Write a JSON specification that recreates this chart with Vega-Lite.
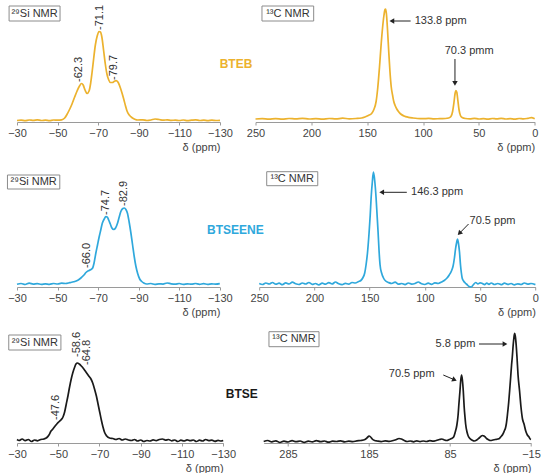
{
"$schema":"https://vega.github.io/schema/vega-lite/v6.json",
"padding":{"left":6,"top":0,"right":0,"bottom":0},
"spacing":6,
"config":{"font":"Liberation Sans","view":{"stroke":"transparent"},
"axis":{"domainColor":"#9a9a9a","tickColor":"#9a9a9a","tickSize":3,"labelFontSize":11,"labelColor":"#444","labelFlush":false,"labelOverlap":false,"grid":false,"titleFontSize":11,"titleFontWeight":"normal","titleColor":"#444","titleAnchor":"start","titleAlign":"right","titlePadding":3}},
"datasets":{
"si1":[{"ppm":-30,"i":0.5},{"ppm":-32,"i":0.8},{"ppm":-34,"i":0.3},{"ppm":-36,"i":1.0},{"ppm":-38,"i":0.6},{"ppm":-40,"i":1.2},{"ppm":-42,"i":0.5},{"ppm":-44,"i":0.9},{"ppm":-46,"i":0.4},{"ppm":-48,"i":1.0},{"ppm":-50,"i":0.8},{"ppm":-52,"i":1.2},{"ppm":-53.5,"i":3},{"ppm":-54.6,"i":6.5},{"ppm":-56,"i":12},{"ppm":-57.1,"i":17},{"ppm":-58.4,"i":24},{"ppm":-59.6,"i":30},{"ppm":-60.8,"i":35},{"ppm":-61.8,"i":37.5},{"ppm":-62.6,"i":36},{"ppm":-63.5,"i":31},{"ppm":-64.5,"i":27.5},{"ppm":-65.5,"i":30},{"ppm":-66.3,"i":38},{"ppm":-67,"i":49},{"ppm":-67.8,"i":63},{"ppm":-68.6,"i":76},{"ppm":-69.5,"i":85},{"ppm":-70.4,"i":89.5},{"ppm":-71.1,"i":89},{"ppm":-71.8,"i":84},{"ppm":-72.7,"i":70},{"ppm":-73.5,"i":57},{"ppm":-74.3,"i":47},{"ppm":-75.2,"i":41},{"ppm":-76,"i":38.5},{"ppm":-77,"i":38.5},{"ppm":-78,"i":39.8},{"ppm":-78.8,"i":40.3},{"ppm":-79.7,"i":39},{"ppm":-80.9,"i":33.3},{"ppm":-81.8,"i":27.5},{"ppm":-82.6,"i":21.7},{"ppm":-83.4,"i":15.5},{"ppm":-84.2,"i":10},{"ppm":-85.3,"i":6},{"ppm":-86.7,"i":3.3},{"ppm":-88,"i":1.8},{"ppm":-89.5,"i":1.0},{"ppm":-92,"i":1.1},{"ppm":-94,"i":0.5},{"ppm":-96,"i":1.0},{"ppm":-98,"i":2.0},{"ppm":-100,"i":1.5},{"ppm":-102,"i":0.8},{"ppm":-104,"i":1.2},{"ppm":-106,"i":0.6},{"ppm":-108,"i":0.9},{"ppm":-110,"i":0.5},{"ppm":-112,"i":1.0},{"ppm":-114,"i":0.4},{"ppm":-116,"i":0.8},{"ppm":-118,"i":1.1},{"ppm":-120,"i":0.5},{"ppm":-122,"i":0.9},{"ppm":-124,"i":0.3},{"ppm":-126,"i":0.8},{"ppm":-128,"i":0.5},{"ppm":-130,"i":0.7}],
"c1":[{"ppm":250,"i":0.5},{"ppm":244,"i":0.8},{"ppm":238,"i":0.3},{"ppm":232,"i":0.9},{"ppm":226,"i":0.4},{"ppm":220,"i":1.0},{"ppm":214,"i":0.6},{"ppm":208,"i":1.2},{"ppm":202,"i":0.5},{"ppm":196,"i":0.9},{"ppm":190,"i":0.3},{"ppm":184,"i":1.0},{"ppm":178,"i":0.6},{"ppm":172,"i":1.3},{"ppm":166,"i":0.7},{"ppm":160,"i":1.0},{"ppm":155,"i":1.5},{"ppm":152,"i":2.5},{"ppm":149,"i":4},{"ppm":146,"i":6},{"ppm":144,"i":10},{"ppm":142,"i":18},{"ppm":140.5,"i":32},{"ppm":139,"i":52},{"ppm":137.5,"i":75},{"ppm":136.2,"i":92},{"ppm":135,"i":104},{"ppm":134,"i":110},{"ppm":133.5,"i":110.5},{"ppm":132.8,"i":106},{"ppm":131.8,"i":90},{"ppm":130.7,"i":68},{"ppm":129.6,"i":48},{"ppm":128.5,"i":33},{"ppm":127.2,"i":24},{"ppm":126.3,"i":18.5},{"ppm":125,"i":14},{"ppm":123.5,"i":10.5},{"ppm":122,"i":8},{"ppm":120,"i":5.5},{"ppm":117,"i":3.5},{"ppm":113,"i":2.2},{"ppm":109,"i":1.5},{"ppm":105,"i":1.0},{"ppm":100,"i":0.8},{"ppm":95,"i":1.1},{"ppm":90,"i":0.6},{"ppm":85,"i":0.9},{"ppm":80,"i":1.0},{"ppm":77,"i":1.5},{"ppm":75,"i":3},{"ppm":73.5,"i":8},{"ppm":72.3,"i":17},{"ppm":71.3,"i":26},{"ppm":70.5,"i":29},{"ppm":69.7,"i":27},{"ppm":68.8,"i":19},{"ppm":67.8,"i":10},{"ppm":66.5,"i":4},{"ppm":65,"i":2},{"ppm":62,"i":1},{"ppm":58,"i":0.7},{"ppm":54,"i":1.1},{"ppm":50,"i":0.5},{"ppm":46,"i":0.9},{"ppm":42,"i":0.4},{"ppm":38,"i":1.0},{"ppm":34,"i":0.6},{"ppm":30,"i":1.2},{"ppm":26,"i":0.5},{"ppm":22,"i":0.9},{"ppm":18,"i":0.4},{"ppm":14,"i":1.0},{"ppm":10,"i":0.6},{"ppm":6,"i":1.2},{"ppm":3,"i":1.8},{"ppm":0,"i":0.8}],
"si2":[{"ppm":-30,"i":0.8},{"ppm":-32,"i":1.5},{"ppm":-34,"i":0.5},{"ppm":-36,"i":1.8},{"ppm":-38,"i":0.9},{"ppm":-40,"i":1.4},{"ppm":-42,"i":0.6},{"ppm":-44,"i":1.2},{"ppm":-46,"i":0.7},{"ppm":-48,"i":1.5},{"ppm":-50,"i":1.0},{"ppm":-52,"i":1.8},{"ppm":-54,"i":1.5},{"ppm":-56,"i":2.3},{"ppm":-58,"i":3.2},{"ppm":-60,"i":4.8},{"ppm":-61.5,"i":7},{"ppm":-63,"i":10},{"ppm":-64,"i":12.5},{"ppm":-65.5,"i":14.5},{"ppm":-66.5,"i":15.5},{"ppm":-67.3,"i":17},{"ppm":-68,"i":22},{"ppm":-68.8,"i":31},{"ppm":-69.7,"i":40},{"ppm":-70.5,"i":48},{"ppm":-71.3,"i":55},{"ppm":-72.1,"i":62},{"ppm":-73,"i":66},{"ppm":-73.8,"i":68.3},{"ppm":-74.5,"i":68},{"ppm":-75.2,"i":65},{"ppm":-76,"i":61},{"ppm":-76.8,"i":57},{"ppm":-77.7,"i":55.5},{"ppm":-78.6,"i":57},{"ppm":-79.6,"i":62},{"ppm":-80.4,"i":68},{"ppm":-81.2,"i":73.5},{"ppm":-82.2,"i":76.5},{"ppm":-82.9,"i":77},{"ppm":-83.7,"i":75.5},{"ppm":-84.5,"i":71.5},{"ppm":-85.3,"i":63},{"ppm":-86.2,"i":51.5},{"ppm":-87,"i":40},{"ppm":-87.8,"i":28.5},{"ppm":-88.6,"i":19},{"ppm":-89.5,"i":11.5},{"ppm":-90.5,"i":6},{"ppm":-91.5,"i":3.5},{"ppm":-92.5,"i":2},{"ppm":-94,"i":1},{"ppm":-96,"i":1.5},{"ppm":-98,"i":0.6},{"ppm":-100,"i":1.2},{"ppm":-102,"i":0.9},{"ppm":-104,"i":2.0},{"ppm":-106,"i":1.2},{"ppm":-108,"i":0.8},{"ppm":-110,"i":1.5},{"ppm":-112,"i":0.6},{"ppm":-114,"i":1.2},{"ppm":-116,"i":0.8},{"ppm":-118,"i":1.5},{"ppm":-120,"i":0.7},{"ppm":-122,"i":1.3},{"ppm":-124,"i":0.6},{"ppm":-126,"i":1.1},{"ppm":-128,"i":0.9},{"ppm":-130,"i":1.4}],
"c2":[{"ppm":250,"i":1.5},{"ppm":247,"i":0.5},{"ppm":244,"i":2.0},{"ppm":241,"i":1.0},{"ppm":238,"i":2.5},{"ppm":235,"i":0.8},{"ppm":232,"i":1.8},{"ppm":229,"i":0.3},{"ppm":226,"i":2.2},{"ppm":223,"i":1.0},{"ppm":220,"i":2.8},{"ppm":217,"i":1.2},{"ppm":214,"i":0.5},{"ppm":211,"i":2.0},{"ppm":208,"i":1.0},{"ppm":205,"i":2.5},{"ppm":202,"i":0.6},{"ppm":199,"i":1.5},{"ppm":196,"i":0.2},{"ppm":193,"i":1.8},{"ppm":190,"i":0.8},{"ppm":187,"i":2.4},{"ppm":184,"i":1.0},{"ppm":181,"i":3.0},{"ppm":178,"i":1.2},{"ppm":175,"i":0.4},{"ppm":172,"i":1.6},{"ppm":169,"i":0.8},{"ppm":166,"i":2.5},{"ppm":163,"i":2.0},{"ppm":160,"i":3.5},{"ppm":158,"i":4.5},{"ppm":156.3,"i":7},{"ppm":154.5,"i":12},{"ppm":153.3,"i":20},{"ppm":152,"i":32},{"ppm":150.5,"i":53},{"ppm":149.5,"i":70},{"ppm":148.7,"i":87},{"ppm":147.6,"i":103},{"ppm":146.6,"i":113},{"ppm":145.5,"i":105},{"ppm":144.2,"i":87},{"ppm":143.3,"i":70},{"ppm":142.4,"i":53},{"ppm":141.5,"i":34},{"ppm":140.6,"i":20},{"ppm":139.2,"i":12},{"ppm":137.5,"i":7},{"ppm":135.5,"i":4},{"ppm":133,"i":2.5},{"ppm":130,"i":1.5},{"ppm":127,"i":2.8},{"ppm":124,"i":0.8},{"ppm":121,"i":1.5},{"ppm":118,"i":0.4},{"ppm":115,"i":2.0},{"ppm":112,"i":0.9},{"ppm":109,"i":1.5},{"ppm":106,"i":3.0},{"ppm":103,"i":1.2},{"ppm":100,"i":0.5},{"ppm":97,"i":1.8},{"ppm":94,"i":0.6},{"ppm":91,"i":2.2},{"ppm":88,"i":1.5},{"ppm":85,"i":3.0},{"ppm":82.5,"i":4.5},{"ppm":80,"i":7},{"ppm":78,"i":10},{"ppm":76,"i":14},{"ppm":74.5,"i":19},{"ppm":73.3,"i":27},{"ppm":72.3,"i":36},{"ppm":71.2,"i":43},{"ppm":70.5,"i":46},{"ppm":69.7,"i":42},{"ppm":68.7,"i":33},{"ppm":67.8,"i":20},{"ppm":67,"i":12},{"ppm":66.3,"i":7},{"ppm":65,"i":4},{"ppm":63.5,"i":2},{"ppm":62,"i":0.5},{"ppm":60,"i":-1.5},{"ppm":58,"i":-2},{"ppm":56,"i":0.5},{"ppm":54,"i":2.5},{"ppm":52,"i":1.0},{"ppm":50,"i":2.2},{"ppm":48,"i":1.5},{"ppm":46,"i":0.4},{"ppm":44,"i":1.8},{"ppm":42,"i":0.7},{"ppm":40,"i":2.0},{"ppm":37,"i":0.5},{"ppm":34,"i":1.5},{"ppm":31,"i":0.3},{"ppm":28,"i":1.8},{"ppm":25,"i":0.6},{"ppm":22,"i":1.5},{"ppm":19,"i":0.2},{"ppm":16,"i":1.2},{"ppm":13,"i":0.5},{"ppm":10,"i":2.0},{"ppm":7,"i":0.8},{"ppm":4,"i":1.5},{"ppm":0,"i":0.4}],
"si3":[{"ppm":-30,"i":1.5},{"ppm":-31,"i":0.5},{"ppm":-32.5,"i":2.0},{"ppm":-34,"i":0.3},{"ppm":-35.5,"i":1.5},{"ppm":-37,"i":-0.5},{"ppm":-38.5,"i":1.0},{"ppm":-40,"i":0.2},{"ppm":-41.5,"i":1.5},{"ppm":-43,"i":2.0},{"ppm":-44.5,"i":3.5},{"ppm":-45.5,"i":6},{"ppm":-46.5,"i":10},{"ppm":-47.4,"i":12},{"ppm":-48.5,"i":15},{"ppm":-49.5,"i":17.5},{"ppm":-50.5,"i":19.5},{"ppm":-51.5,"i":21.5},{"ppm":-52.3,"i":24},{"ppm":-53.1,"i":29},{"ppm":-53.9,"i":37},{"ppm":-54.7,"i":45},{"ppm":-55.5,"i":54},{"ppm":-56.3,"i":62},{"ppm":-57.1,"i":68.5},{"ppm":-57.9,"i":73.5},{"ppm":-58.6,"i":77},{"ppm":-59.3,"i":78},{"ppm":-60.2,"i":77},{"ppm":-61.2,"i":75},{"ppm":-62.4,"i":72},{"ppm":-63.6,"i":68.5},{"ppm":-64.8,"i":65},{"ppm":-66,"i":61.5},{"ppm":-66.8,"i":57.5},{"ppm":-67.6,"i":52},{"ppm":-68.5,"i":45},{"ppm":-69.3,"i":37},{"ppm":-70.1,"i":29},{"ppm":-70.9,"i":21},{"ppm":-71.7,"i":14},{"ppm":-72.5,"i":8.5},{"ppm":-73.5,"i":5},{"ppm":-74.9,"i":3},{"ppm":-76.5,"i":2.5},{"ppm":-78,"i":1.5},{"ppm":-79.5,"i":2.5},{"ppm":-81,"i":1.0},{"ppm":-82.5,"i":2.0},{"ppm":-84,"i":1.0},{"ppm":-85.5,"i":0.5},{"ppm":-87,"i":1.5},{"ppm":-88.5,"i":0.0},{"ppm":-90,"i":1.0},{"ppm":-91.5,"i":-0.5},{"ppm":-93,"i":0.5},{"ppm":-94.5,"i":0.0},{"ppm":-96,"i":1.2},{"ppm":-97.5,"i":0.4},{"ppm":-99,"i":1.5},{"ppm":-100.5,"i":2.0},{"ppm":-102,"i":0.8},{"ppm":-103.5,"i":1.5},{"ppm":-105,"i":0.2},{"ppm":-106.5,"i":1.0},{"ppm":-108,"i":-0.5},{"ppm":-109.5,"i":0.8},{"ppm":-111,"i":0.0},{"ppm":-112.5,"i":1.2},{"ppm":-114,"i":0.3},{"ppm":-115.5,"i":1.0},{"ppm":-117,"i":-0.5},{"ppm":-118.5,"i":0.8},{"ppm":-120,"i":0.0},{"ppm":-121.5,"i":1.5},{"ppm":-123,"i":0.3},{"ppm":-124.5,"i":0.9},{"ppm":-126,"i":-0.3},{"ppm":-127.5,"i":0.6},{"ppm":-129,"i":0.0},{"ppm":-130,"i":0.5}],
"c3":[{"ppm":315,"i":0.5},{"ppm":310,"i":1.5},{"ppm":305,"i":0.2},{"ppm":300,"i":1.2},{"ppm":295,"i":-0.5},{"ppm":290,"i":0.8},{"ppm":285,"i":0.0},{"ppm":280,"i":1.3},{"ppm":275,"i":0.3},{"ppm":270,"i":1.0},{"ppm":265,"i":-0.3},{"ppm":260,"i":0.9},{"ppm":255,"i":0.2},{"ppm":250,"i":1.4},{"ppm":245,"i":0.4},{"ppm":240,"i":1.0},{"ppm":235,"i":-0.2},{"ppm":230,"i":0.8},{"ppm":225,"i":0.5},{"ppm":220,"i":1.2},{"ppm":215,"i":0.1},{"ppm":210,"i":0.9},{"ppm":205,"i":0.3},{"ppm":200,"i":1.1},{"ppm":195,"i":1.5},{"ppm":190,"i":2.5},{"ppm":187,"i":4.5},{"ppm":185,"i":6},{"ppm":183,"i":5},{"ppm":181,"i":3},{"ppm":178,"i":1.5},{"ppm":175,"i":1.0},{"ppm":170,"i":0.4},{"ppm":165,"i":1.2},{"ppm":160,"i":0.6},{"ppm":155,"i":1.5},{"ppm":151,"i":2.5},{"ppm":148,"i":3.5},{"ppm":145,"i":3},{"ppm":142,"i":1.8},{"ppm":138,"i":0.5},{"ppm":134,"i":1.0},{"ppm":130,"i":0.2},{"ppm":126,"i":1.2},{"ppm":122,"i":0.4},{"ppm":118,"i":1.0},{"ppm":114,"i":0.5},{"ppm":110,"i":1.3},{"ppm":106,"i":0.8},{"ppm":102,"i":1.5},{"ppm":98,"i":2.5},{"ppm":95,"i":3},{"ppm":92,"i":2},{"ppm":89,"i":1.5},{"ppm":86,"i":2.5},{"ppm":83,"i":3.5},{"ppm":80.5,"i":5},{"ppm":78.5,"i":10},{"ppm":76.5,"i":17},{"ppm":75,"i":27},{"ppm":74,"i":38},{"ppm":72.7,"i":51},{"ppm":71.7,"i":62},{"ppm":70.7,"i":67},{"ppm":69.7,"i":62},{"ppm":68.6,"i":51},{"ppm":67.5,"i":35},{"ppm":66.5,"i":25},{"ppm":65.7,"i":18},{"ppm":64,"i":10},{"ppm":62.5,"i":6},{"ppm":61,"i":4},{"ppm":59,"i":2.5},{"ppm":57,"i":1.5},{"ppm":55,"i":1.0},{"ppm":52,"i":2},{"ppm":49,"i":4},{"ppm":47,"i":5.5},{"ppm":45,"i":6.5},{"ppm":43,"i":6},{"ppm":41,"i":4.5},{"ppm":39,"i":3},{"ppm":37,"i":2},{"ppm":35,"i":1.5},{"ppm":32,"i":2},{"ppm":29,"i":2.5},{"ppm":26,"i":3},{"ppm":24,"i":3.5},{"ppm":22.5,"i":5},{"ppm":20,"i":7.5},{"ppm":18,"i":11},{"ppm":16.5,"i":14},{"ppm":15.5,"i":18},{"ppm":14,"i":28},{"ppm":12.5,"i":40},{"ppm":11.4,"i":51},{"ppm":10,"i":66},{"ppm":9,"i":77},{"ppm":8.1,"i":85},{"ppm":7,"i":97},{"ppm":6,"i":105},{"ppm":5.2,"i":108.7},{"ppm":4.4,"i":106},{"ppm":3.3,"i":97},{"ppm":2.3,"i":85},{"ppm":1,"i":67},{"ppm":-0.9,"i":51},{"ppm":-2.5,"i":36},{"ppm":-4.5,"i":23},{"ppm":-6.4,"i":18},{"ppm":-8.5,"i":11},{"ppm":-10.5,"i":7},{"ppm":-12.5,"i":5},{"ppm":-14,"i":3},{"ppm":-15,"i":2.5}],
"box":[{"p":"si1","ppm":-26.1,"ppm2":-51.2,"i":115,"i2":100},{"p":"c1","ppm":244.2,"ppm2":197.9,"i":113.5,"i2":98.5},{"p":"si2","ppm":-25.3,"ppm2":-51.1,"i":110,"i2":96},{"p":"c2","ppm":243.2,"ppm2":197,"i":113.3,"i2":99.3},{"p":"si3","ppm":-26,"ppm2":-51.3,"i":106,"i2":91},{"p":"c3","ppm":308.5,"ppm2":246.7,"i":110.3,"i2":95.3}],
"boxt":[{"p":"si1","ppm":-38.65,"i":107.5,"t":"²⁹Si NMR"},{"p":"c1","ppm":221,"i":106,"t":"¹³C NMR"},{"p":"si2","ppm":-38.2,"i":103,"t":"²⁹Si NMR"},{"p":"c2","ppm":220.1,"i":106.3,"t":"¹³C NMR"},{"p":"si3","ppm":-38.65,"i":98.5,"t":"²⁹Si NMR"},{"p":"c3","ppm":277.6,"i":102.8,"t":"¹³C NMR"}],
"plab":[{"p":"si1","ppm":-60.6,"i":39,"t":"-62.3"},{"p":"si1","ppm":-71.0,"i":91,"t":"-71.1"},{"p":"si1","ppm":-77.6,"i":41,"t":"-79.7"},{"p":"si2","ppm":-64.4,"i":17,"t":"-66.0"},{"p":"si2","ppm":-73.8,"i":70,"t":"-74.7"},{"p":"si2","ppm":-82.6,"i":79,"t":"-82.9"},{"p":"si3","ppm":-49.0,"i":21,"t":"-47.6"},{"p":"si3","ppm":-59.2,"i":84,"t":"-58.6"},{"p":"si3","ppm":-64.1,"i":76,"t":"-64.8"}],
"note":[{"p":"c1","ppm":107.5,"i":98.5,"t":"133.8 ppm"},{"p":"c1","ppm":80.6,"i":68.5,"t":"70.3 pmm"},{"p":"c2","ppm":112.5,"i":92.7,"t":"146.3 ppm"},{"p":"c2","ppm":59.6,"i":64,"t":"70.5 ppm"},{"p":"c3","ppm":102.8,"i":98,"t":"5.8 ppm"},{"p":"c3","ppm":160.6,"i":68,"t":"70.5 ppm"}],
"arr":[{"p":"c1","ppm":111.1,"i":98.5,"ppm2":127.2,"i2":98.5},{"p":"c1","ppm":71.4,"i":60.5,"ppm2":71.4,"i2":37},{"p":"c2","ppm":116.4,"i":92.7,"ppm2":138.4,"i2":92.7},{"p":"c2","ppm":60.5,"i":61,"ppm2":68.3,"i2":52.2},{"p":"c3","ppm":49.2,"i":98,"ppm2":18.1,"i2":98},{"p":"c3","ppm":93.3,"i":67,"ppm2":80.3,"i2":62.5}],
"head":[{"p":"c1","ppm":127.2,"i":98.5,"ang":270},{"p":"c1","ppm":71.4,"i":37,"ang":180},{"p":"c2","ppm":138.4,"i":92.7,"ang":270},{"p":"c2","ppm":68.3,"i":52.2,"ang":224},{"p":"c3","ppm":18.1,"i":98,"ang":90},{"p":"c3","ppm":80.3,"i":62.5,"ang":113}],
"name":[{"p":"si1","ppm":-137.9,"i":57,"t":"BTEB"},{"p":"si2","ppm":-137.7,"i":55,"t":"BTSEENE"},{"p":"si3","ppm":-139,"i":47,"t":"BTSE"}]
},
"vconcat":[
{"hconcat":[
{"width":203,"height":121,
"encoding":{"x":{"field":"ppm","type":"quantitative","scale":{"domain":[-130,-30],"reverse":true,"nice":false,"zero":false},"axis":{"values":[-30,-50,-70,-90,-110,-130],"title":"δ (ppm)"}},"y":{"field":"i","type":"quantitative","scale":{"domain":[-1,120],"nice":false,"zero":false},"axis":null}},
"layer":[
{"data":{"name":"si1"},"mark":{"type":"line","color":"#ECB22E","strokeWidth":1.7,"interpolate":"monotone"},"encoding":{}},
{"data":{"name":"box"},"transform":[{"filter":"datum.p==='si1'"}],"mark":{"type":"rect","fill":"white","stroke":"#8c8c8c","strokeWidth":1},"encoding":{"x2":{"field":"ppm2"},"y2":{"field":"i2"}}},
{"data":{"name":"boxt"},"transform":[{"filter":"datum.p==='si1'"}],"mark":{"type":"text","fontSize":11,"color":"#333"},"encoding":{"text":{"field":"t"}}},
{"data":{"name":"plab"},"transform":[{"filter":"datum.p==='si1'"}],"mark":{"type":"text","angle":270,"align":"left","baseline":"middle","fontSize":11,"color":"#333"},"encoding":{"text":{"field":"t"}}},
{"data":{"name":"name"},"transform":[{"filter":"datum.p==='si1'"}],"mark":{"type":"text","fontSize":12,"fontWeight":"bold","color":"#ECB22E"},"encoding":{"text":{"field":"t"}}}
]},
{"width":279.2,"height":121,
"encoding":{"x":{"field":"ppm","type":"quantitative","scale":{"domain":[0,250],"reverse":true,"nice":false,"zero":false},"axis":{"values":[250,200,150,100,50,0],"title":"δ (ppm)"}},"y":{"field":"i","type":"quantitative","scale":{"domain":[-2.5,118.5],"nice":false,"zero":false},"axis":null}},
"layer":[
{"data":{"name":"c1"},"mark":{"type":"line","color":"#ECB22E","strokeWidth":1.7,"interpolate":"monotone"},"encoding":{}},
{"data":{"name":"box"},"transform":[{"filter":"datum.p==='c1'"}],"mark":{"type":"rect","fill":"white","stroke":"#8c8c8c","strokeWidth":1},"encoding":{"x2":{"field":"ppm2"},"y2":{"field":"i2"}}},
{"data":{"name":"boxt"},"transform":[{"filter":"datum.p==='c1'"}],"mark":{"type":"text","fontSize":11,"color":"#333"},"encoding":{"text":{"field":"t"}}},
{"data":{"name":"note"},"transform":[{"filter":"datum.p==='c1'"}],"mark":{"type":"text","align":"left","baseline":"middle","fontSize":11,"color":"#333"},"encoding":{"text":{"field":"t"}}},
{"data":{"name":"arr"},"transform":[{"filter":"datum.p==='c1'"}],"mark":{"type":"rule","color":"#222","strokeWidth":1},"encoding":{"x2":{"field":"ppm2"},"y2":{"field":"i2"}}},
{"data":{"name":"head"},"transform":[{"filter":"datum.p==='c1'"}],"mark":{"type":"point","shape":"triangle","filled":true,"color":"#222","opacity":1,"size":30},"encoding":{"angle":{"field":"ang","type":"quantitative","scale":null}}}
]}
],"spacing":35.5,"bounds":"flush"},
{"hconcat":[
{"width":202.8,"height":127,
"encoding":{"x":{"field":"ppm","type":"quantitative","scale":{"domain":[-130,-30],"reverse":true,"nice":false,"zero":false},"axis":{"values":[-30,-50,-70,-90,-110,-130],"title":"δ (ppm)"}},"y":{"field":"i","type":"quantitative","scale":{"domain":[-2,125],"nice":false,"zero":false},"axis":null}},
"layer":[
{"data":{"name":"si2"},"mark":{"type":"line","color":"#2FA8DC","strokeWidth":1.7,"interpolate":"monotone"},"encoding":{}},
{"data":{"name":"box"},"transform":[{"filter":"datum.p==='si2'"}],"mark":{"type":"rect","fill":"white","stroke":"#8c8c8c","strokeWidth":1},"encoding":{"x2":{"field":"ppm2"},"y2":{"field":"i2"}}},
{"data":{"name":"boxt"},"transform":[{"filter":"datum.p==='si2'"}],"mark":{"type":"text","fontSize":11,"color":"#333"},"encoding":{"text":{"field":"t"}}},
{"data":{"name":"plab"},"transform":[{"filter":"datum.p==='si2'"}],"mark":{"type":"text","angle":270,"align":"left","baseline":"middle","fontSize":11,"color":"#333"},"encoding":{"text":{"field":"t"}}},
{"data":{"name":"name"},"transform":[{"filter":"datum.p==='si2'"}],"mark":{"type":"text","fontSize":12,"fontWeight":"bold","color":"#2FA8DC"},"encoding":{"text":{"field":"t"}}}
]},
{"width":276.2,"height":127,
"encoding":{"x":{"field":"ppm","type":"quantitative","scale":{"domain":[0,250],"reverse":true,"nice":false,"zero":false},"axis":{"values":[250,200,150,100,50,0],"title":"δ (ppm)"}},"y":{"field":"i","type":"quantitative","scale":{"domain":[-2,125],"nice":false,"zero":false},"axis":null}},
"layer":[
{"data":{"name":"c2"},"mark":{"type":"line","color":"#2FA8DC","strokeWidth":1.7,"interpolate":"monotone"},"encoding":{}},
{"data":{"name":"box"},"transform":[{"filter":"datum.p==='c2'"}],"mark":{"type":"rect","fill":"white","stroke":"#8c8c8c","strokeWidth":1},"encoding":{"x2":{"field":"ppm2"},"y2":{"field":"i2"}}},
{"data":{"name":"boxt"},"transform":[{"filter":"datum.p==='c2'"}],"mark":{"type":"text","fontSize":11,"color":"#333"},"encoding":{"text":{"field":"t"}}},
{"data":{"name":"note"},"transform":[{"filter":"datum.p==='c2'"}],"mark":{"type":"text","align":"left","baseline":"middle","fontSize":11,"color":"#333"},"encoding":{"text":{"field":"t"}}},
{"data":{"name":"arr"},"transform":[{"filter":"datum.p==='c2'"}],"mark":{"type":"rule","color":"#222","strokeWidth":1},"encoding":{"x2":{"field":"ppm2"},"y2":{"field":"i2"}}},
{"data":{"name":"head"},"transform":[{"filter":"datum.p==='c2'"}],"mark":{"type":"point","shape":"triangle","filled":true,"color":"#222","opacity":1,"size":30},"encoding":{"angle":{"field":"ang","type":"quantitative","scale":null}}}
]}
],"spacing":39.2,"bounds":"flush"},
{"hconcat":[
{"width":206.2,"height":118,
"encoding":{"x":{"field":"ppm","type":"quantitative","scale":{"domain":[-130,-30],"reverse":true,"nice":false,"zero":false},"axis":{"values":[-30,-50,-70,-90,-110,-130],"title":"δ (ppm)"}},"y":{"field":"i","type":"quantitative","scale":{"domain":[-2,116],"nice":false,"zero":false},"axis":null}},
"layer":[
{"data":{"name":"si3"},"mark":{"type":"line","color":"#1a1a1a","strokeWidth":1.7,"interpolate":"monotone"},"encoding":{}},
{"data":{"name":"box"},"transform":[{"filter":"datum.p==='si3'"}],"mark":{"type":"rect","fill":"white","stroke":"#8c8c8c","strokeWidth":1},"encoding":{"x2":{"field":"ppm2"},"y2":{"field":"i2"}}},
{"data":{"name":"boxt"},"transform":[{"filter":"datum.p==='si3'"}],"mark":{"type":"text","fontSize":11,"color":"#333"},"encoding":{"text":{"field":"t"}}},
{"data":{"name":"plab"},"transform":[{"filter":"datum.p==='si3'"}],"mark":{"type":"text","angle":270,"align":"left","baseline":"middle","fontSize":11,"color":"#333"},"encoding":{"text":{"field":"t"}}},
{"data":{"name":"name"},"transform":[{"filter":"datum.p==='si3'"}],"mark":{"type":"text","fontSize":12,"fontWeight":"bold","color":"#1a1a1a"},"encoding":{"text":{"field":"t"}}}
]},
{"width":267.3,"height":118,
"encoding":{"x":{"field":"ppm","type":"quantitative","scale":{"domain":[-15,315],"reverse":true,"nice":false,"zero":false},"axis":{"values":[285,185,85,-15],"title":"δ (ppm)"}},"y":{"field":"i","type":"quantitative","scale":{"domain":[-1,117],"nice":false,"zero":false},"axis":null}},
"layer":[
{"data":{"name":"c3"},"mark":{"type":"line","color":"#1a1a1a","strokeWidth":1.7,"interpolate":"monotone"},"encoding":{}},
{"data":{"name":"box"},"transform":[{"filter":"datum.p==='c3'"}],"mark":{"type":"rect","fill":"white","stroke":"#8c8c8c","strokeWidth":1},"encoding":{"x2":{"field":"ppm2"},"y2":{"field":"i2"}}},
{"data":{"name":"boxt"},"transform":[{"filter":"datum.p==='c3'"}],"mark":{"type":"text","fontSize":11,"color":"#333"},"encoding":{"text":{"field":"t"}}},
{"data":{"name":"note"},"transform":[{"filter":"datum.p==='c3'"}],"mark":{"type":"text","align":"left","baseline":"middle","fontSize":11,"color":"#333"},"encoding":{"text":{"field":"t"}}},
{"data":{"name":"arr"},"transform":[{"filter":"datum.p==='c3'"}],"mark":{"type":"rule","color":"#222","strokeWidth":1},"encoding":{"x2":{"field":"ppm2"},"y2":{"field":"i2"}}},
{"data":{"name":"head"},"transform":[{"filter":"datum.p==='c3'"}],"mark":{"type":"point","shape":"triangle","filled":true,"color":"#222","opacity":1,"size":30},"encoding":{"angle":{"field":"ang","type":"quantitative","scale":null}}}
]}
],"spacing":39.7,"bounds":"flush"}
]
}
